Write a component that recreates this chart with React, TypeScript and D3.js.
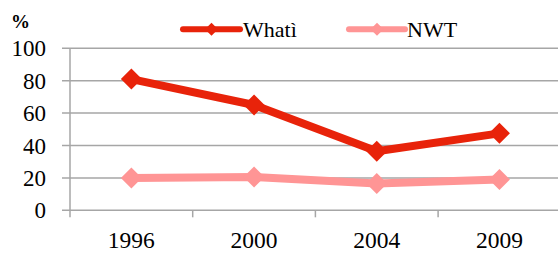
import React from "react";
import * as d3 from "d3";

const years = ["1996", "2000", "2004", "2009"];
const whati = [81, 65, 36.5, 47.5];
const nwt = [20, 20.5, 16.5, 19];
const yTicks = [0, 20, 40, 60, 80, 100];
const seriesNames = ["Whatì", "NWT"];
const colors = ["#E8230A", "#FF9595"];

const W = 558, H = 253;
const left = 70, top = 48.3, bottom = 210.3;
const band = 122.7;

export default function App() {
  const x = d3.scaleBand<string>().domain(years).range([left, left + band * years.length]).padding(0);
  const y = d3.scaleLinear().domain([0, 100]).range([bottom, top]);
  const line = d3.line<number>().x((_, i) => (x(years[i]) as number) + x.bandwidth() / 2).y((d) => y(d));
  const diamond = (cx: number, cy: number, r: number) =>
    `M${cx},${cy - r}L${cx + r},${cy}L${cx},${cy + r}L${cx - r},${cy}Z`;
  const font = "Liberation Serif, serif";
  const series = [whati, nwt];
  const legend = [
    { x1: 183, x2: 240, tx: 243 },
    { x1: 349, x2: 405, tx: 407 },
  ];
  return (
    <svg width={W} height={H} style={{ position: "absolute", left: 0, top: 0 }}>
      <rect width={W} height={H} fill="#fff" />
      {yTicks.map((t) => (
        <g key={t}>
          <line x1={62} x2={W} y1={y(t)} y2={y(t)} stroke="#A6A6A6" strokeWidth={1.5} />
          <text x={46} y={y(t)} dy="0.35em" textAnchor="end" fontSize={23} fill="#000" fontFamily={font}>{t}</text>
        </g>
      ))}
      <line x1={left} x2={left} y1={top} y2={bottom + 7} stroke="#A6A6A6" strokeWidth={1.5} />
      {years.map((yr, i) => (
        <line key={yr} x1={left + band * (i + 1)} x2={left + band * (i + 1)} y1={bottom} y2={bottom + 7} stroke="#A6A6A6" strokeWidth={1.5} />
      ))}
      {years.map((yr) => (
        <text key={yr} x={(x(yr) as number) + x.bandwidth() / 2} y={248} textAnchor="middle" fontSize={23.5} fill="#000" fontFamily={font}>{yr}</text>
      ))}
      <text x={11} y={28} fontSize={19} fontWeight="bold" fill="#000" fontFamily={font}>%</text>
      {[1, 0].map((si) => (
        <g key={si}>
          <path d={line(series[si]) as string} fill="none" stroke={colors[si]} strokeWidth={8} strokeLinejoin="round" />
          {series[si].map((v, i) => (
            <path key={i} d={diamond((x(years[i]) as number) + x.bandwidth() / 2, y(v), 10.5)} fill={colors[si]} />
          ))}
        </g>
      ))}
      {legend.map((l, i) => (
        <g key={i}>
          <line x1={l.x1} x2={l.x2} y1={29.3} y2={29.3} stroke={colors[i]} strokeWidth={6} strokeLinecap="round" />
          <path d={diamond((l.x1 + l.x2) / 2, 29.3, 6.5)} fill={colors[i]} />
          <text x={l.tx} y={29.3} dy="0.35em" fontSize={22} fill="#000" fontFamily={font}>{seriesNames[i]}</text>
        </g>
      ))}
    </svg>
  );
}
